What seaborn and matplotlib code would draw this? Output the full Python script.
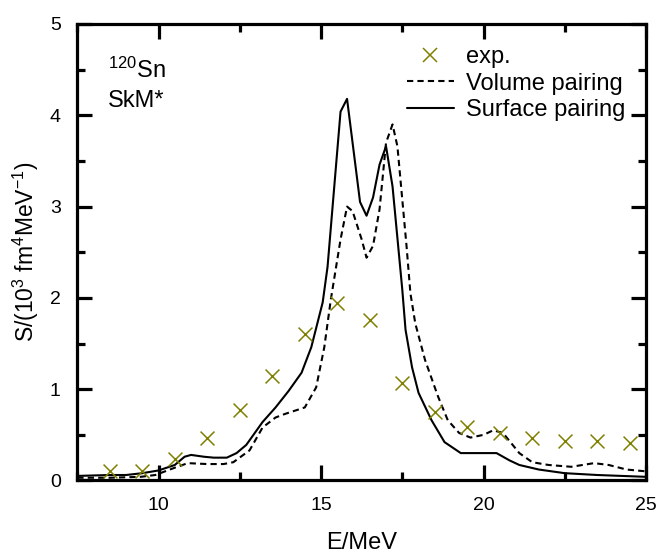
import matplotlib
matplotlib.use("Agg")
import matplotlib.pyplot as plt
from matplotlib.lines import Line2D
from matplotlib.ticker import MultipleLocator
import seaborn as sns

# Experimental strength (olive crosses)
exp_E = [8.5, 9.5, 10.5, 11.5, 12.5, 13.5, 14.5, 15.5, 16.5, 17.5,
         18.5, 19.5, 20.5, 21.5, 22.5, 23.5, 24.5]
exp_S = [0.10, 0.10, 0.23, 0.46, 0.77, 1.14, 1.60, 1.94, 1.76, 1.07,
         0.75, 0.59, 0.52, 0.47, 0.43, 0.43, 0.41]

# QRPA strength, volume pairing (dashed)
vol_E = [7.5, 8.5, 9.45, 9.9, 10.5, 10.9, 11.5, 12.0, 12.3, 12.8, 13.2, 13.6,
         13.9, 14.5, 14.85, 15.1, 15.3, 15.6, 15.8, 15.97, 16.25, 16.4, 16.6,
         16.8, 17.0, 17.2, 17.35, 17.63, 17.75, 17.9, 18.2, 18.6, 18.9, 19.25,
         19.6, 20.0, 20.3, 20.6, 21.1, 21.5, 22.0, 22.7, 23.4, 23.85, 24.4, 25.0]
vol_S = [0.03, 0.03, 0.04, 0.06, 0.14, 0.19, 0.18, 0.18, 0.20, 0.33, 0.58, 0.69,
         0.73, 0.80, 1.02, 1.46, 1.98, 2.64, 3.00, 2.95, 2.64, 2.44, 2.57,
         2.97, 3.70, 3.90, 3.66, 2.57, 2.05, 1.72, 1.32, 0.92, 0.66, 0.52,
         0.47, 0.50, 0.55, 0.52, 0.30, 0.20, 0.17, 0.15, 0.19, 0.17, 0.12, 0.10]

# QRPA strength, surface pairing (solid)
surf_E = [7.5, 8.5, 9.0, 9.5, 10.0, 10.5, 10.8, 11.0, 11.4, 11.7, 12.1, 12.4,
          12.7, 13.2, 13.6, 14.0, 14.4, 14.7, 15.05, 15.2, 15.6, 15.8, 16.2,
          16.4, 16.6, 16.8, 17.0, 17.2, 17.5, 17.6, 17.8, 18.0, 18.4, 18.8,
          19.3, 20.4, 20.8, 21.1, 21.7, 22.5, 23.5, 25.0]
surf_S = [0.05, 0.06, 0.06, 0.08, 0.11, 0.17, 0.26, 0.28, 0.26, 0.25, 0.25, 0.30,
          0.39, 0.64, 0.80, 0.98, 1.18, 1.46, 1.95, 2.34, 4.04, 4.18, 3.05,
          2.90, 3.10, 3.46, 3.66, 3.22, 2.09, 1.65, 1.24, 0.96, 0.66, 0.42,
          0.30, 0.30, 0.22, 0.17, 0.12, 0.08, 0.06, 0.04]

sns.set_style("ticks")
plt.rcParams["font.family"] = ["Liberation Sans", "DejaVu Sans"]
plt.rcParams["mathtext.fontset"] = "custom"
plt.rcParams["mathtext.rm"] = "Liberation Sans"
plt.rcParams["mathtext.it"] = "Liberation Sans:italic"
plt.rcParams["mathtext.bf"] = "Liberation Sans:bold"
for key in ("axes.edgecolor", "axes.labelcolor", "text.color",
            "xtick.color", "ytick.color"):
    plt.rcParams[key] = "black"

fig = plt.figure(figsize=(6.58, 5.54), dpi=100)
ax = fig.add_axes([0.1175, 0.1327, 0.8643, 0.824])

olive = "#808000"
dash = (0, (3, 2))

sns.lineplot(x=vol_E, y=vol_S, ax=ax, color="black", lw=1.5,
             linestyle=dash, sort=False, estimator=None)
sns.lineplot(x=surf_E, y=surf_S, ax=ax, color="black", lw=1.5,
             sort=False, estimator=None)
sns.scatterplot(x=exp_E, y=exp_S, ax=ax, marker="x", s=100, color=olive,
                linewidth=1.1, zorder=5)

ax.set_xlim(7.5, 25)
ax.set_ylim(0, 5)
ax.xaxis.set_major_locator(MultipleLocator(5))
ax.xaxis.set_minor_locator(MultipleLocator(2.5))
ax.yaxis.set_major_locator(MultipleLocator(1))
ax.yaxis.set_minor_locator(MultipleLocator(0.5))

for s in ax.spines.values():
    s.set_linewidth(2.3)
    s.set_color("black")
    s.set_visible(True)
ax.tick_params(which="both", direction="in", top=True, right=True,
               width=2.3, labelsize=14, colors="black")
ax.tick_params(which="major", length=11)
ax.tick_params(which="minor", length=5.5)
ax.tick_params(axis="x", which="major", pad=12)
ax.tick_params(axis="y", which="major", pad=12)

ax.set_xlabel("E/MeV", fontsize=17, labelpad=13)
ax.set_ylabel(r"S/(10$^{3}$ fm$^{4}$MeV$^{-1}$)", fontsize=16.5, labelpad=6)

ax.text(0.054, 0.882, r"$^{120}$Sn", transform=ax.transAxes, fontsize=17,
        ha="left", va="baseline")
ax.text(0.054, 0.818, "SkM*", transform=ax.transAxes, fontsize=17,
        ha="left", va="baseline")

handles = [
    Line2D([], [], ls="none", marker="x", ms=10, mew=1.1, color=olive),
    Line2D([], [], color="black", lw=1.5, linestyle=dash),
    Line2D([], [], color="black", lw=1.5),
]
labels = ["exp.", "Volume pairing", "Surface pairing"]
ax.legend(handles, labels, loc="upper right", bbox_to_anchor=(0.963, 0.951),
          frameon=False, fontsize=17, handlelength=2.0, handletextpad=0.5,
          labelspacing=0.18, borderpad=0, borderaxespad=0)

fig.savefig("out.png", dpi=100)
